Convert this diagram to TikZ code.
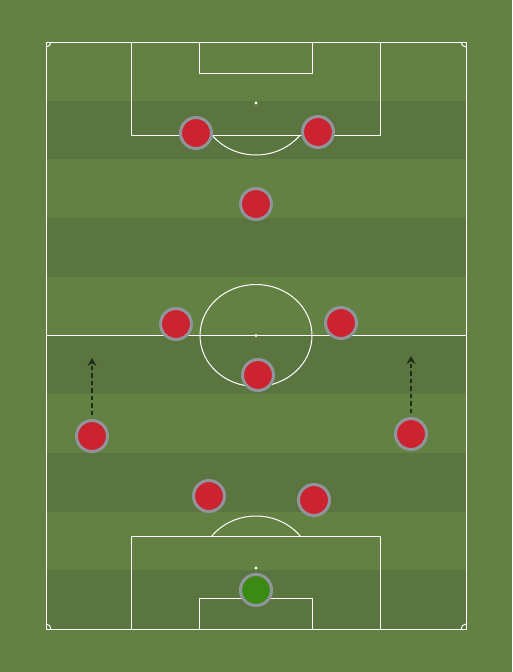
\documentclass[tikz,border=0pt]{standalone}
\usetikzlibrary{arrows.meta,positioning}
\definecolor{pitch}{HTML}{648144}
\definecolor{stripe}{HTML}{5A7540}
\definecolor{shirt}{HTML}{CC2330}
\definecolor{keeper}{HTML}{3A8A15}
\definecolor{rim}{HTML}{8F959B}
\definecolor{runcol}{HTML}{1F2E17}
\begin{document}
\begin{tikzpicture}[x=1pt,y=-1pt,
    Line/.style={white,line width=1pt},
    Player/.style={circle,draw=rim,line width=3pt,fill=shirt,
      minimum size=31pt,inner sep=0pt},
    Keeper/.style={Player,fill=keeper},
    Run/.style={draw=runcol,line width=2.6pt,dash pattern=on 4.5pt off 3pt,
      shorten <=4pt,-{Stealth[length=8pt,width=9pt]}}]
  \useasboundingbox (0,0) rectangle (512,672);
  \fill[pitch] (0,0) rectangle (512,672);
  % stripes
  \foreach \i in {1,3,5,7,9}
    \fill[stripe] (46,42+58.7*\i) rectangle (466,42+58.7*\i+58.7);
  % pitch lines
  \draw[Line] (46,42) rectangle (466,629);
  \draw[Line] (46,335.5) -- (466,335.5);
  \draw[Line] (256,335.5) ellipse [x radius=56, y radius=51];
  \fill[white] (256,335.5) circle (1.6);
  % top box
  \draw[Line] (131,42) -- (131,135) -- (380,135) -- (380,42);
  \draw[Line] (199,42) -- (199,73) -- (312,73) -- (312,42);
  \fill[white] (256,103) circle (1.6);
  \begin{scope}
    \clip (131,135) rectangle (380,200);
    \draw[Line] (256,103) ellipse [x radius=56, y radius=52];
  \end{scope}
  % bottom box
  \draw[Line] (131,629) -- (131,536) -- (380,536) -- (380,629);
  \draw[Line] (199,629) -- (199,598) -- (312,598) -- (312,629);
  \fill[white] (256,568) circle (1.6);
  \begin{scope}
    \clip (131,536) rectangle (380,470);
    \draw[Line] (256,568) ellipse [x radius=56, y radius=52];
  \end{scope}
  % corners
  \draw[Line] (51,42) arc[start angle=0,end angle=90,radius=5];
  \draw[Line] (461,42) arc[start angle=180,end angle=90,radius=5];
  \draw[Line] (51,629) arc[start angle=0,end angle=-90,radius=5];
  \draw[Line] (461,629) arc[start angle=180,end angle=270,radius=5];

  % players
  \node[Keeper] (GK) at (256,590) {};
  \node[Player] (LCB) at (209,496) {};
  \node[Player] (RCB) at (314,500) {};
  \node[Player] (LWB) at (92,436) {};
  \node[Player] (RWB) at (411,434) {};
  \node[Player] (CM) at (258,375) {};
  \node[Player] (LM) at (176,324) {};
  \node[Player] (RM) at (341,323) {};
  \node[Player] (CAM) at (256,204) {};
  \node[Player] (LS) at (196,133) {};
  \node[Player] (RS) at (318,132) {};

  % runs
  \coordinate (LWBrun) at (92,358);
  \coordinate (RWBrun) at (411,356);
  \draw[Run] (LWB) -- (LWBrun);
  \draw[Run] (RWB) -- (RWBrun);
\end{tikzpicture}
\end{document}
